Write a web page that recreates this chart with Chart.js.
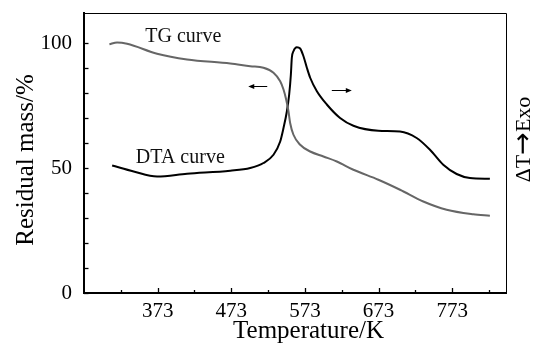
<!DOCTYPE html>
<html><head><meta charset="utf-8">
<script src="https://cdn.jsdelivr.net/npm/chart.js@4.4.1/dist/chart.umd.min.js"></script>
<style>html,body{margin:0;padding:0;background:#fff}#wrap{width:533px;height:350px;position:relative}</style>
</head><body><div id="wrap"><canvas id="c"></canvas></div>
<script>
// ---- data ----
const tgTemps = [307.5, 317.9, 331.5, 372.2, 412.9, 471.6, 498.7, 516.7, 530.3, 539.4, 543.9, 547.5, 550.6, 552.9, 557.4, 566.5, 580.1, 598.1, 616.3, 638.8, 672.7, 702.1, 733.7, 765.4, 801.5, 824.1];
const tgMass  = [99.5, 100.2, 99.7, 95.7, 93.4, 91.8, 90.7, 90.1, 88.1, 84.7, 81.4, 77.4, 72.7, 68.0, 63.3, 59.3, 56.6, 54.6, 52.6, 49.3, 45.3, 41.3, 36.6, 33.3, 31.5, 30.9];
const dtaTemps = [311.2, 340.5, 372.2, 412.9, 471.6, 498.7, 516.7, 530.3, 539.4, 543.9, 548.5, 551.6, 553.9, 555.2, 557.4, 562.0, 566.5, 571.0, 575.6, 580.1, 589.2, 602.7, 620.7, 638.8, 672.7, 702.1, 724.7, 742.8, 760.8, 779.0, 797.0, 824.1];
const dtaSignal = [51.0, 48.6, 46.6, 47.7, 48.9, 50.0, 52.0, 55.3, 60.6, 66.0, 72.7, 79.4, 87.4, 94.1, 96.7, 98.3, 97.8, 94.7, 90.1, 86.1, 80.7, 75.4, 70.0, 66.9, 64.9, 64.6, 62.0, 57.3, 51.3, 47.6, 46.0, 45.7];
const xTickValues = [323, 373, 423, 473, 523, 573, 623, 673, 723, 773, 823];
const xTickLabels = [373, 473, 573, 673, 773];
const yTickValues = [0, 10, 20, 30, 40, 50, 60, 70, 80, 90, 100];
const yTickLabels = [0, 50, 100];
const xTitle = 'Temperature/K';
const yTitle = 'Residual mass/%';
const y2TitleParts = ['ΔT', '→', 'Exo'];
const curveNames = ['TG curve', 'DTA curve'];

const SERIF = '"Liberation Serif", "Times New Roman", serif';

function zeroPad(s) { s.paddingTop = 0; s.paddingBottom = 0; s.paddingLeft = 0; s.paddingRight = 0; }

const decor = {
  id: 'decor',
  afterDraw(chart) {
    const {ctx, chartArea: a, scales: {x, y}} = chart;
    ctx.save();
    ctx.strokeStyle = '#000';
    ctx.fillStyle = '#000';
    // top and right frame
    ctx.lineWidth = 1;
    ctx.beginPath();
    ctx.moveTo(a.left, a.top + 0.5);
    ctx.lineTo(a.right + 0.5, a.top + 0.5);
    ctx.lineTo(a.right + 0.5, a.bottom);
    ctx.stroke();
    // inward tick marks
    ctx.lineWidth = 1.3;
    xTickValues.forEach(v => {
      const px = Math.round(x.getPixelForValue(v)) + 0.5;
      const len = xTickLabels.includes(v) ? 5 : 3;
      ctx.beginPath(); ctx.moveTo(px, a.bottom); ctx.lineTo(px, a.bottom - len); ctx.stroke();
    });
    yTickValues.forEach(v => {
      const py = Math.round(y.getPixelForValue(v)) + 0.5;
      ctx.beginPath(); ctx.moveTo(a.left, py); ctx.lineTo(a.left + 4.5, py); ctx.stroke();
    });
    // curve labels
    ctx.font = '20px ' + SERIF;
    ctx.textAlign = 'center';
    ctx.textBaseline = 'alphabetic';
    ctx.fillStyle = '#111';
    ctx.fillText(curveNames[0], x.getPixelForValue(407.8), y.getPixelForValue(100.3));
    ctx.fillText(curveNames[1], x.getPixelForValue(403.8), y.getPixelForValue(52.2));
    // arrows
    const arrow = (t1, t2, v) => {
      const x1 = x.getPixelForValue(t1), x2 = x.getPixelForValue(t2), yy = Math.round(y.getPixelForValue(v)) + 0.5;
      const dir = Math.sign(x2 - x1);
      ctx.lineWidth = 1;
      ctx.beginPath(); ctx.moveTo(x1, yy); ctx.lineTo(x2 - dir * 3, yy); ctx.stroke();
      ctx.beginPath(); ctx.moveTo(x2, yy); ctx.lineTo(x2 - dir * 6, yy - 2.5); ctx.lineTo(x2 - dir * 6, yy + 2.5); ctx.closePath(); ctx.fill();
    };
    ctx.fillStyle = '#000';
    arrow(521.8, 496.0, 82.7);
    arrow(609.5, 636.6, 81.1);
    // axis titles
    ctx.fillStyle = '#000';
    ctx.font = '25px ' + SERIF;
    ctx.textAlign = 'center';
    ctx.fillText(xTitle, 308.5, 337.5);
    ctx.save();
    ctx.translate(32.5, 160);
    ctx.rotate(-Math.PI / 2);
    ctx.fillText(yTitle, 0, 0);
    ctx.restore();
    // right title: ΔT→Exo (reads bottom to top)
    ctx.save();
    ctx.translate(530, 139.5);
    ctx.rotate(-Math.PI / 2);
    const fA = '22px ' + SERIF, fB = '27px "DejaVu Sans", sans-serif';
    ctx.font = fA; const w0 = ctx.measureText(y2TitleParts[0]).width, w2 = ctx.measureText(y2TitleParts[2]).width;
    ctx.font = fB; const w1 = ctx.measureText(y2TitleParts[1]).width;
    let cx = -(w0 + w1 + w2) / 2;
    ctx.textAlign = 'left';
    ctx.font = fA; ctx.fillText(y2TitleParts[0], cx, 0); cx += w0;
    ctx.font = fB; ctx.fillText(y2TitleParts[1], cx, 1); cx += w1;
    ctx.font = fA; ctx.fillText(y2TitleParts[2], cx, 0);
    ctx.restore();
    ctx.restore();
  }
};

new Chart(document.getElementById('c'), {
  type: 'line',
  data: {
    datasets: [
      {
        label: curveNames[0],
        data: tgTemps.map((t, i) => ({x: t, y: tgMass[i]})),
        borderColor: '#666', borderWidth: 2, pointRadius: 0, fill: false,
        cubicInterpolationMode: 'monotone'
      },
      {
        label: curveNames[1],
        data: dtaTemps.map((t, i) => ({x: t, y: dtaSignal[i]})),
        borderColor: '#000', borderWidth: 2, pointRadius: 0, fill: false,
        cubicInterpolationMode: 'monotone'
      }
    ]
  },
  options: {
    responsive: true,
    maintainAspectRatio: false,
    animation: false,
    devicePixelRatio: 1,
    layout: {padding: {top: 13, right: 27, left: 0, bottom: 0}},
    plugins: {legend: {display: false}, tooltip: {enabled: false}},
    scales: {
      x: {
        type: 'linear', min: 273, max: 846,
        afterFit(s) { s.height = 57; zeroPad(s); },
        afterBuildTicks(s) { s.ticks = xTickLabels.map(v => ({value: v})); },
        grid: {display: true, drawOnChartArea: false, drawTicks: false},
        border: {display: true, color: '#000', width: 2},
        ticks: {color: '#000', font: {family: SERIF, size: 21}, padding: 6, maxRotation: 0, autoSkip: false, callback: v => String(v)}
      },
      y: {
        type: 'linear', min: 0, max: 112,
        afterFit(s) { s.width = 84; zeroPad(s); },
        afterBuildTicks(s) { s.ticks = yTickLabels.map(v => ({value: v})); },
        grid: {display: true, drawOnChartArea: false, drawTicks: false},
        border: {display: true, color: '#000', width: 2},
        ticks: {color: '#000', font: {family: SERIF, size: 21}, padding: 12, autoSkip: false, callback: v => String(v)}
      }
    }
  },
  plugins: [decor]
});
</script>
</body></html>
